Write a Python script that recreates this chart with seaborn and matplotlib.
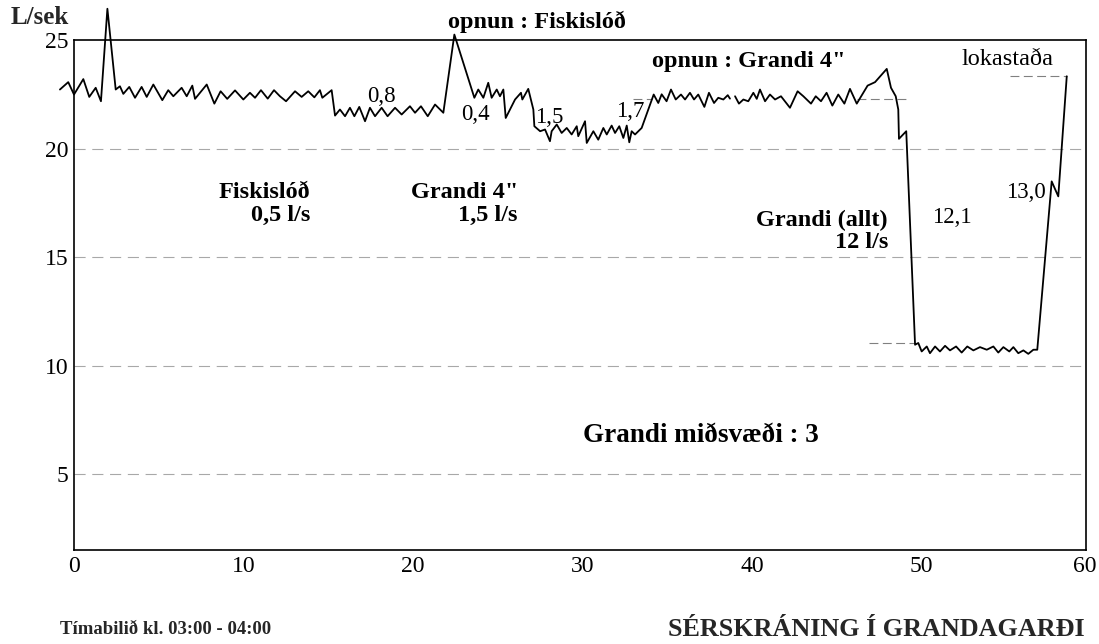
import numpy as np
import pandas as pd
import matplotlib
matplotlib.use("Agg")
import matplotlib.pyplot as plt
import matplotlib.transforms as mtransforms
import seaborn as sns

# ---- data (minutes, L/sek) ----
minutes_a = [-0.83, -0.34, 0.0, 0.55, 0.9, 1.28, 1.59, 1.97, 2.46, 2.71, 2.91, 3.26, 3.6, 3.99, 4.29,
             4.68, 5.21, 5.56, 5.86, 6.35, 6.65, 6.98, 7.14, 7.83, 8.28, 8.65, 9.04, 9.5, 9.99, 10.38,
             10.68, 11.03, 11.43, 11.8, 12.15, 12.51, 13.04, 13.43, 13.82, 14.18, 14.51, 14.65, 15.2,
             15.4, 15.69, 15.99, 16.28, 16.54, 16.83, 17.17, 17.46, 17.76, 18.15, 18.5, 18.94, 19.33,
             19.82, 20.12, 20.47, 20.87, 21.3, 21.79, 22.44, 23.62, 23.85, 24.15, 24.44, 24.64, 24.94,
             25.13, 25.33, 25.47, 26.02, 26.37, 26.45, 26.8, 27.1, 27.16, 27.5, 27.79, 28.08, 28.18,
             28.48, 28.77, 29.07, 29.36, 29.66, 29.75, 30.15, 30.25, 30.64, 30.93, 31.23, 31.43, 31.72,
             31.92, 32.17, 32.41, 32.61, 32.76, 32.9, 33.1, 33.49, 34.2, 34.47, 34.67, 34.96, 35.22,
             35.5, 35.81, 36.05, 36.34, 36.58, 36.83, 37.19, 37.46, 37.76, 38.01, 38.31, 38.57, 38.7]
flow_a = [22.72, 23.06, 22.49, 23.2, 22.38, 22.8, 22.18, 26.44, 22.72, 22.87, 22.52, 22.84, 22.34, 22.84,
          22.38, 22.95, 22.23, 22.69, 22.41, 22.8, 22.41, 22.9, 22.29, 22.95, 22.07, 22.64, 22.29, 22.68,
          22.26, 22.57, 22.34, 22.69, 22.3, 22.69, 22.41, 22.18, 22.64, 22.38, 22.64, 22.36, 22.69,
          22.34, 22.69, 21.52, 21.8, 21.49, 21.88, 21.49, 21.92, 21.26, 21.88, 21.49, 21.88, 21.49,
          21.88, 21.57, 21.95, 21.65, 21.95, 21.49, 22.03, 21.65, 25.25, 22.34, 22.72, 22.34, 23.03,
          22.34, 22.72, 22.41, 22.72, 21.41, 22.26, 22.57, 22.26, 22.75, 21.8, 21.03, 20.8, 20.88,
          20.34, 20.8, 21.11, 20.72, 20.95, 20.65, 21.03, 20.57, 21.26, 20.26, 20.8, 20.41, 20.95,
          20.65, 21.06, 20.72, 21.03, 20.49, 21.06, 20.29, 20.8, 20.65, 20.95, 22.49, 22.1, 22.5,
          22.18, 22.72, 22.26, 22.49, 22.26, 22.57, 22.26, 22.49, 21.92, 22.57, 22.1, 22.34, 22.26,
          22.46, 22.3]

minutes_b = [39.0, 39.23, 39.49, 39.78, 40.08, 40.28, 40.47, 40.77, 41.06, 41.36, 41.71, 42.24, 42.69,
             43.03, 43.48, 43.76, 44.07, 44.4, 44.74, 45.09, 45.45, 45.78, 46.18, 46.82, 47.26, 47.95,
             48.2, 48.48, 48.63, 48.67, 49.1, 49.62, 49.81, 50.01, 50.31, 50.5, 50.8, 51.09, 51.39,
             51.68, 52.04, 52.37, 52.7, 53.06, 53.45, 53.85, 54.24, 54.53, 54.83, 55.18, 55.42, 55.71,
             56.01, 56.3, 56.6, 56.83, 57.68, 58.07, 58.57]
flow_b = [22.41, 22.07, 22.26, 22.18, 22.57, 22.29, 22.72, 22.18, 22.49, 22.26, 22.41, 21.88, 22.64,
          22.41, 22.07, 22.41, 22.18, 22.57, 21.98, 22.49, 22.07, 22.75, 22.07, 22.9, 23.06, 23.67,
          22.8, 22.41, 21.8, 20.45, 20.8, 10.97, 11.05, 10.66, 10.89, 10.58, 10.89, 10.66, 10.92,
          10.71, 10.89, 10.61, 10.89, 10.71, 10.86, 10.74, 10.89, 10.61, 10.86, 10.66, 10.86, 10.58,
          10.71, 10.55, 10.74, 10.74, 18.49, 17.8, 23.33]

x_ticks = [0, 10, 20, 30, 40, 50, 60]
y_ticks = [5, 10, 15, 20, 25]

# short level marker lines: (y, x_start, x_end)
level_y = [23.33, 22.3, 22.3, 11.05]
level_x0 = [55.2, 33.0, 46.2, 46.9]
level_x1 = [58.57, 34.1, 49.3, 49.6]

df = pd.DataFrame({
    "minute": minutes_a + minutes_b,
    "flow": flow_a + flow_b,
    "seg": ["a"] * len(minutes_a) + ["b"] * len(minutes_b),
})

sns.set_theme(style="white")
plt.rcParams["font.family"] = ["Liberation Serif", "DejaVu Serif"]

fig = plt.figure(figsize=(10.99, 6.44), dpi=100)
ax = fig.add_axes([74 / 1099, 1 - 550 / 644, 1017 / 1099, 510 / 644])

ymin = 25 - 510 / 21.72
x_frame = 59.7
ax.set_xlim(0, 60)
ax.set_ylim(ymin, 25)

# frame (set before tick labels: spine positioning resets ticks)
for s in ax.spines.values():
    s.set_visible(True)
    s.set_color("black")
    s.set_linewidth(1.2)
ax.spines["right"].set_position(("data", x_frame))
ax.spines["top"].set_bounds(0, x_frame)
ax.spines["bottom"].set_bounds(0, x_frame)

# grid
for yv in [5, 10, 15, 20]:
    ax.plot([0, x_frame], [yv, yv], color="#a8a8a8", lw=0.8, ls=(0, (10, 6)), zorder=1)
for yv, a, b in zip(level_y, level_x0, level_x1):
    ax.plot([a, b], [yv, yv], color="#808080", lw=0.8, ls=(0, (8, 4)), zorder=1)

sns.lineplot(data=df, x="minute", y="flow", units="seg", estimator=None, sort=False,
             color="black", lw=1.3, ax=ax, clip_on=False, zorder=3, legend=False)

ax.set_xticks(x_ticks)
ax.set_yticks(y_ticks)
ax.set_xticklabels([str(v) for v in x_ticks], fontsize=17)
ax.set_yticklabels([str(v) for v in y_ticks], fontsize=17)
ax.tick_params(axis="both", length=0, pad=4, colors="black", labelsize=17)
ax.set_xlabel("")
ax.set_ylabel("")

# nudge last x tick label to sit under the frame edge
last = ax.get_xticklabels()[-1]
last.set_transform(last.get_transform() + mtransforms.ScaledTranslation(-6 / 100, 0, fig.dpi_scale_trans))

bold = dict(fontweight="bold", fontsize=17.5, color="black")
norm = dict(fontsize=16.5, color="black")

ax.text(27.32, 25.83, "opnun : Fiskislóð", ha="center", va="center", **bold)
ax.text(39.82, 23.99, 'opnun : Grandi 4"', ha="center", va="center", **bold)
ax.text(55.07, 24.08, "lokastaða", ha="center", va="center", fontsize=17.5, color="black")
ax.text(18.11, 22.38, "0,8", ha="center", va="center", **norm)
ax.text(23.66, 21.55, "0,4", ha="center", va="center", **norm)
ax.text(28.02, 21.45, "1,5", ha="center", va="center", **norm)
ax.text(32.8, 21.69, "1,7", ha="center", va="center", **norm)
ax.text(13.92, 18.0, "Fiskislóð", ha="right", va="center", **bold)
ax.text(13.92, 16.9, "0,5 l/s", ha="right", va="center", **bold)
ax.text(26.19, 18.0, 'Grandi 4"', ha="right", va="center", **bold)
ax.text(26.19, 16.9, "1,5 l/s", ha="right", va="center", **bold)
ax.text(48.02, 16.71, "Grandi (allt)", ha="right", va="center", **bold)
ax.text(48.02, 15.68, "12 l/s", ha="right", va="center", **bold)
ax.text(51.8, 16.85, "12,1", ha="center", va="center", **norm)
ax.text(56.17, 17.96, "13,0", ha="center", va="center", **norm)
ax.text(36.99, 6.77, "Grandi miðsvæði : 3", ha="center", va="center",
        fontweight="bold", fontsize=19.5, color="black")

fig.text(40 / 1099, 1 - 18 / 644, "L/sek", ha="center", va="center", fontweight="bold", fontsize=18)
fig.text(60 / 1099, 1 - 629 / 644, "Tímabilið kl. 03:00 - 04:00", ha="left", va="center",
         fontweight="bold", fontsize=13.5)
fig.text(1085 / 1099, 1 - 629 / 644, "SÉRSKRÁNING Í GRANDAGARÐI", ha="right", va="center",
         fontweight="bold", fontsize=18.8)

fig.savefig("out.png", dpi=100, facecolor="white")
